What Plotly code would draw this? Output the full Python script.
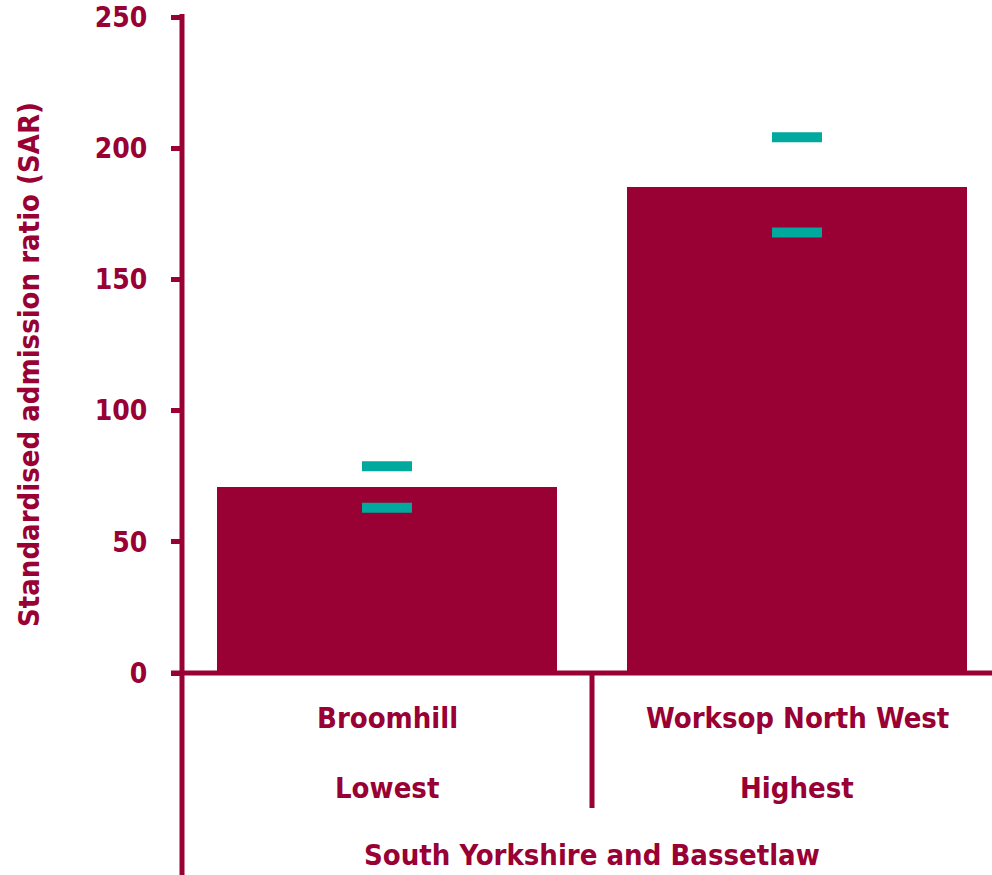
import plotly.graph_objects as go

areas = ["Broomhill", "Worksop North West"]
ranks = ["Lowest", "Highest"]
region = "South Yorkshire and Bassetlaw"
sar = [70.9, 185.4]
ci_upper = [78.8, 204.2]
ci_lower = [63.0, 167.9]
y_ticks = [0, 50, 100, 150, 200, 250]
y_title = "Standardised admission ratio (SAR)"

RED = "#990033"
TEAL = "#00A99D"
FONT = "DejaVu Sans Condensed, DejaVu Sans"
FS = 29
TFS = 28

W, H = 992, 875
ML, MR, MT, MB = 182, 0, 17, 202
plot_w = W - ML - MR
plot_h = H - MT - MB
cat_px = 410  # width of one category slot in pixels
x_range = [-0.5, -0.5 + plot_w / cat_px]

xs = list(range(len(areas)))


def f(size=FS):
    return dict(family=FONT, size=size, color=RED, weight="bold")


fig = go.Figure()
fig.add_trace(go.Bar(x=xs, y=sar, width=0.83, marker=dict(color=RED, line=dict(width=0)),
                     showlegend=False, hoverinfo="skip"))
fig.add_trace(go.Scatter(x=xs + xs, y=ci_upper + ci_lower, mode="markers",
                         marker=dict(symbol="line-ew", size=50 / 1.4, line=dict(width=10, color=TEAL), color=TEAL),
                         showlegend=False, hoverinfo="skip", cliponaxis=False))

fig.update_layout(
    width=W, height=H,
    margin=dict(l=ML, r=MR, t=MT, b=MB, pad=0, autoexpand=False),
    plot_bgcolor="white", paper_bgcolor="white",
    font=f(),
    bargap=0,
    hovermode=False,
)
fig.update_xaxes(range=x_range, showticklabels=False, showgrid=False, zeroline=False,
                 showline=False, ticks="", fixedrange=True, automargin=False)
fig.update_yaxes(range=[0, 250.001], tickvals=y_ticks, ticks="outside", ticklen=10, tickwidth=5,
                 tickcolor=RED, showgrid=False, zeroline=False, showline=False,
                 ticklabelstandoff=18, automargin=False, ticklabeloverflow="allow",
                 tickfont=f(TFS), fixedrange=True)

# y-axis title
fig.add_annotation(x=0, xref="paper", xshift=-153, y=(673 - 365) / plot_h, yref="paper",
                   text=y_title, textangle=-90, showarrow=False,
                   xanchor="center", yanchor="middle", font=f())

# vertical axis line, extending below the plot for category grouping
fig.add_shape(type="line", xref="paper", yref="paper", x0=0, x1=0,
              y0=1 + 3 / plot_h, y1=-(MB / plot_h), line=dict(color=RED, width=5))
# horizontal zero axis line
fig.add_shape(type="line", xref="paper", yref="paper", x0=-11 / plot_w, x1=1,
              y0=0, y1=0, line=dict(color=RED, width=5))
# separator between categories
fig.add_shape(type="line", xref="x", yref="paper", x0=0.5, x1=0.5,
              y0=0, y1=-(135 / plot_h), line=dict(color=RED, width=5))

for i, (a, r) in enumerate(zip(areas, ranks)):
    fig.add_annotation(x=i, xref="x", y=0, yref="paper", text=a, showarrow=False,
                       yanchor="middle", yshift=-45, font=f())
    fig.add_annotation(x=i, xref="x", y=0, yref="paper", text=r, showarrow=False,
                       yanchor="middle", yshift=-115, font=f())
fig.add_annotation(x=0.5, xref="x", y=0, yref="paper", text=region, showarrow=False,
                   yanchor="middle", yshift=-182, font=f())

fig.write_html("out.html", config={"displayModeBar": False, "staticPlot": True})

# remove the default 8px body margin so the figure fills the window exactly
with open("out.html", encoding="utf-8") as fh:
    html = fh.read()
html = html.replace("<head>", "<head><style>html,body{margin:0;padding:0;overflow:hidden;}</style>", 1)
with open("out.html", "w", encoding="utf-8") as fh:
    fh.write(html)
